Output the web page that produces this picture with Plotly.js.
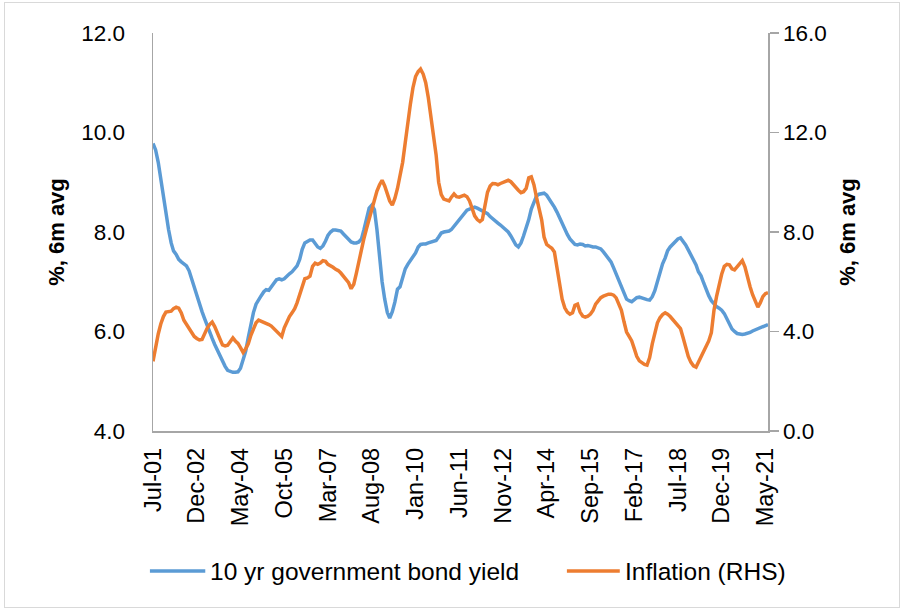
<!DOCTYPE html>
<html>
<head>
<meta charset="utf-8">
<script src="https://cdn.plot.ly/plotly-3.0.1.min.js"></script>
<style>
html,body{margin:0;padding:0;background:#fff;}
#wrap{position:absolute;left:0;top:0;width:904px;height:610px;}
#chart{position:absolute;left:0;top:0;width:904px;height:610px;}
#frame{position:absolute;left:4px;top:2px;width:894px;height:604px;border:1px solid #d9d9d9;pointer-events:none;}
</style>
</head>
<body>
<div id="wrap"><div id="chart"></div><div id="frame"></div></div>
<script>
// Monthly series, Jul-2001 .. Jun-2021
var startYear = 2001, startMonth = 7;
var bondYield = [
9.78,9.65,9.40,9.05,8.68,8.35,8.05,7.78,7.62,7.55,
7.45,7.40,7.35,7.32,7.22,7.05,6.90,6.72,6.55,6.40,
6.27,6.12,5.98,5.86,5.74,5.62,5.50,5.40,5.30,5.22,
5.19,5.18,5.18,5.19,5.26,5.42,5.60,5.88,6.15,6.38,
6.55,6.65,6.72,6.80,6.84,6.83,6.90,6.98,7.04,7.06,
7.04,7.06,7.12,7.16,7.20,7.26,7.32,7.45,7.65,7.78,
7.82,7.84,7.84,7.78,7.70,7.67,7.72,7.82,7.93,8.00,
8.04,8.04,8.03,8.02,7.96,7.90,7.84,7.80,7.78,7.78,
7.80,7.86,8.05,8.30,8.48,8.54,8.45,8.05,7.45,7.00,
6.65,6.38,6.27,6.40,6.59,6.85,6.90,7.08,7.26,7.35,
7.43,7.48,7.58,7.70,7.75,7.76,7.76,7.78,7.80,7.81,
7.83,7.90,7.98,8.00,8.01,8.02,8.05,8.12,8.17,8.24,
8.32,8.38,8.44,8.46,8.48,8.50,8.48,8.45,8.43,8.40,
8.37,8.31,8.26,8.22,8.18,8.14,8.10,8.05,8.00,7.92,
7.84,7.74,7.70,7.78,7.92,8.08,8.25,8.46,8.62,8.72,
8.76,8.78,8.78,8.74,8.66,8.60,8.50,8.40,8.28,8.15,
8.04,7.95,7.86,7.80,7.75,7.74,7.76,7.75,7.72,7.73,
7.71,7.70,7.70,7.68,7.66,7.60,7.54,7.48,7.40,7.28,
7.16,7.05,6.92,6.78,6.65,6.62,6.60,6.64,6.68,6.69,
6.67,6.66,6.64,6.63,6.70,6.82,7.02,7.20,7.36,7.48,
7.62,7.70,7.76,7.80,7.86,7.88,7.82,7.74,7.64,7.54,
7.44,7.34,7.20,7.12,6.98,6.84,6.72,6.62,6.55,6.50,
6.47,6.43,6.36,6.26,6.15,6.05,6.00,5.96,5.95,5.94,
5.95,5.96,5.98,6.01,6.03,6.06,6.08,6.10,6.12,6.14
];
var inflation = [
2.80,3.45,3.90,4.30,4.60,4.78,4.80,4.82,4.92,4.98,
4.94,4.75,4.45,4.30,4.15,3.95,3.80,3.72,3.66,3.68,
3.90,4.12,4.28,4.38,4.20,3.98,3.70,3.46,3.42,3.45,
3.62,3.74,3.62,3.52,3.35,3.16,3.30,3.50,3.85,4.12,
4.35,4.46,4.42,4.36,4.34,4.28,4.22,4.12,4.02,3.92,
3.80,4.15,4.40,4.60,4.75,4.92,5.15,5.45,5.80,6.12,
6.15,6.22,6.62,6.75,6.70,6.75,6.85,6.82,6.70,6.65,
6.58,6.50,6.45,6.35,6.20,6.08,5.96,5.72,5.90,6.35,
6.85,7.30,7.75,8.15,8.55,8.95,9.35,9.65,9.90,10.08,
9.85,9.50,9.25,9.08,9.35,9.75,10.25,10.80,11.60,12.45,
13.15,13.80,14.25,14.45,14.55,14.35,14.00,13.40,12.60,12.00,
11.10,10.00,9.50,9.32,9.28,9.25,9.40,9.53,9.42,9.40,
9.44,9.48,9.42,9.25,8.95,8.65,8.50,8.42,8.50,9.05,
9.60,9.85,9.95,9.94,9.90,9.95,10.00,10.05,10.08,10.02,
9.90,9.80,9.68,9.58,9.62,9.75,10.18,10.22,9.90,9.40,
8.95,8.48,7.80,7.50,7.42,7.35,7.20,6.50,5.80,5.30,
4.95,4.78,4.70,4.75,5.05,5.10,4.78,4.62,4.58,4.62,
4.70,4.85,5.10,5.25,5.36,5.42,5.46,5.50,5.50,5.46,
5.35,5.12,4.85,4.40,3.98,3.80,3.62,3.30,3.00,2.82,
2.73,2.68,2.65,2.95,3.50,3.98,4.35,4.55,4.68,4.75,
4.70,4.60,4.48,4.34,4.25,4.12,3.75,3.35,3.00,2.77,
2.62,2.57,2.78,2.95,3.18,3.40,3.62,3.95,4.85,5.40,
5.95,6.30,6.62,6.70,6.68,6.52,6.48,6.62,6.75,6.85,
6.60,6.15,5.80,5.48,5.25,4.98,5.15,5.40,5.52,5.56
];
var tickLabels = ['Jul-01','Dec-02','May-04','Oct-05','Mar-07','Aug-08','Jan-10','Jun-11',
                  'Nov-12','Apr-14','Sep-15','Feb-17','Jul-18','Dec-19','May-21'];
var tickDates = ['2001-07-01','2002-12-01','2004-05-01','2005-10-01','2007-03-01','2008-08-01',
                 '2010-01-01','2011-06-01','2012-11-01','2014-04-01','2015-09-01','2017-02-01',
                 '2018-07-01','2019-12-01','2021-05-01'];
var seriesNames = ['10 yr government bond yield','Inflation (RHS)'];
var seriesColors = ['#5B9BD5','#ED7D31'];

function monthDate(k){
  var m = startMonth - 1 + k;
  var y = startYear + Math.floor(m/12);
  var mm = (m % 12) + 1;
  return y + '-' + (mm<10?'0':'') + mm + '-01';
}
var dates = bondYield.map(function(_,k){return monthDate(k);});

var FONT = 'Liberation Sans Narrow, Arial Narrow, sans-serif';
var traces = [
  {x: dates, y: bondYield, type:'scatter', mode:'lines', name: seriesNames[0],
   line:{color:seriesColors[0], width:3.5}, yaxis:'y', showlegend:false},
  {x: dates, y: inflation, type:'scatter', mode:'lines', name: seriesNames[1],
   line:{color:seriesColors[1], width:3.5}, yaxis:'y2', showlegend:false}
];

var axisGray = '#a6a6a6';
var layout = {
  width: 904, height: 610,
  margin: {l:153, r:136, t:33, b:179, pad:0},
  paper_bgcolor:'rgba(0,0,0,0)', plot_bgcolor:'#fff',
  font:{family:FONT, size:22, color:'#000'},
  xaxis:{
    type:'date', range:[dates[0], dates[dates.length-1]],
    tickmode:'array', tickvals:tickDates, ticktext:tickLabels, tickangle:-90,
    showgrid:false, zeroline:false, showline:true, linecolor:axisGray, linewidth:1.5,
    ticks:'outside', ticklen:6, tickcolor:'rgba(0,0,0,0)',
    tickfont:{family:FONT, size:23.5, color:'#000'}
  },
  yaxis:{
    range:[4,12], dtick:2, tick0:4, tickformat:'.1f',
    showgrid:false, zeroline:false, showline:true, linecolor:axisGray, linewidth:1.5,
    ticks:'outside', ticklen:22, tickcolor:'rgba(0,0,0,0)',
    tickfont:{family:FONT, size:22.5, color:'#000'},
    title:{text:'<b>%, 6m avg</b>', font:{family:FONT, size:22, color:'#000'}, standoff:10}
  },
  yaxis2:{
    range:[0,16], dtick:4, tick0:0, tickformat:'.1f', overlaying:'y', side:'right',
    showgrid:false, zeroline:false, showline:true, linecolor:axisGray, linewidth:1.5,
    ticks:'outside', ticklen:9, tickcolor:axisGray, tickwidth:1.5,
    tickfont:{family:FONT, size:22.5, color:'#000'},
    title:{text:'<b>%, 6m avg</b>', font:{family:FONT, size:22, color:'#000'}, standoff:14}
  },
  shapes:[
    {type:'line', xref:'paper', yref:'paper', x0:-0.005, x1:0.085, y0:-0.352, y1:-0.352,
     line:{color:seriesColors[0], width:3.5}},
    {type:'line', xref:'paper', yref:'paper', x0:0.673, x1:0.759, y0:-0.352, y1:-0.352,
     line:{color:seriesColors[1], width:3.5}}
  ],
  annotations:[
    {xref:'paper', yref:'paper', x:0.089, y:-0.352, xanchor:'left', yanchor:'middle',
     text:seriesNames[0], showarrow:false, font:{family:FONT, size:24.5, color:'#000'}},
    {xref:'paper', yref:'paper', x:0.764, y:-0.352, xanchor:'left', yanchor:'middle',
     text:seriesNames[1], showarrow:false, font:{family:FONT, size:24.5, color:'#000'}}
  ]
};
Plotly.newPlot('chart', traces, layout, {displayModeBar:false, staticPlot:true});
</script>
</body>
</html>
